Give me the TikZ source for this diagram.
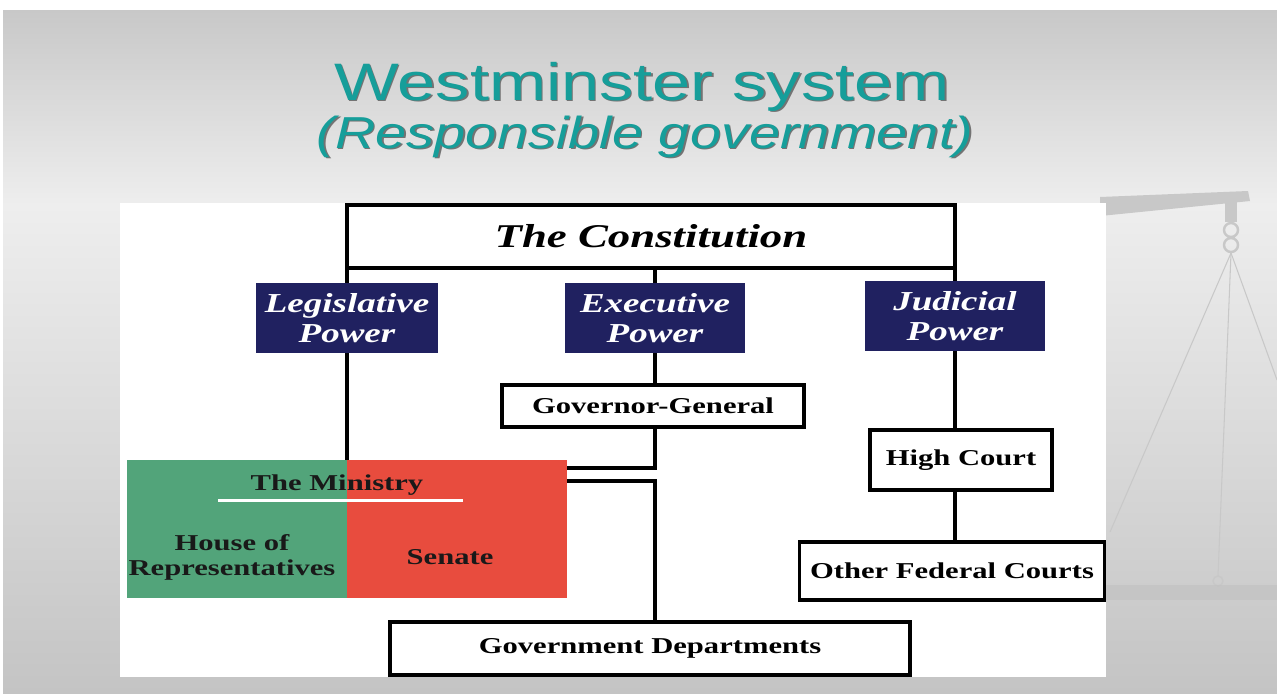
\documentclass[tikz,border=0pt]{standalone}
\usepackage{fontspec}
\newfontfamily\boxfont[FakeStretch=1.35]{Liberation Serif}
\newfontfamily\titlefont[FakeStretch=1.3]{Liberation Sans}
\newfontfamily\subtitlefont[FakeStretch=1.25]{Liberation Sans}

\definecolor{titleteal}{RGB}{22,158,154}
\definecolor{powernavy}{RGB}{32,33,96}
\definecolor{housegreen}{RGB}{82,164,122}
\definecolor{senatered}{RGB}{232,76,62}
\definecolor{bgtop}{RGB}{200,200,200}
\definecolor{bgmid}{RGB}{238,238,238}
\definecolor{bgbot}{RGB}{196,196,196}
\definecolor{scalegray}{RGB}{200,200,200}

\tikzset{
  boxsize/.style 2 args={minimum width=#1*0.02cm, minimum height=#2*0.02cm},
  plainbox/.style={draw, line width=2pt, fill=white, inner sep=0pt, outer sep=0pt,
    font=\boxfont\bfseries\fontsize{12.9}{13}\selectfont},
  powerbox/.style={fill=powernavy, text=white, inner sep=0pt, outer sep=0pt, align=center,
    font=\boxfont\bfseries\itshape\fontsize{15.6}{17}\selectfont},
  chamber/.style={inner sep=0pt, align=center, text=black!90,
    font=\boxfont\bfseries\fontsize{12.9}{14.2}\selectfont},
  link/.style={line width=2pt},
}

\begin{document}
\begin{tikzpicture}[x=0.02cm, y=-0.02cm]
    \useasboundingbox (0,0) rectangle (1277,693);

    % slide background
    \fill[white] (0,0) rectangle (1277,693);
    \shade[top color=bgtop, bottom color=bgmid] (3,10) rectangle (1277,205);
    \shade[top color=bgmid, bottom color=bgbot] (3,205) rectangle (1277,693);

    % scales in the background
    \fill[scalegray] (1100,197) -- (1248,191) -- (1250,201) -- (1100,216) -- cycle;
    \fill[scalegray] (1225,200) rectangle (1237,222);
    \draw[scalegray, line width=1.4pt] (1231,230) circle (7) (1231,245) circle (7);
    \draw[scalegray, line width=0.6pt] (1231,253) -- (1110,532);
    \draw[scalegray, line width=0.6pt] (1231,253) -- (1218,576);
    \draw[scalegray, line width=0.6pt] (1231,253) -- (1277,380);
    \draw[scalegray, line width=0.8pt] (1218,581) circle (5);
    \fill[black!25, opacity=0.5] (1100,585) rectangle (1277,600);

    % title
    \node[anchor=base, text=black!55, font=\titlefont\fontsize{30}{30}\selectfont]
      at (643.5,101.5) {Westminster system};
    \node[anchor=base, text=titleteal, font=\titlefont\fontsize{30}{30}\selectfont]
      (title) at (642,100) {Westminster system};
    \node[anchor=base, text=black!55, font=\subtitlefont\itshape\fontsize{25.5}{26}\selectfont]
      at (646.5,149.5) {(Responsible government)};
    \node[anchor=base, text=titleteal, font=\subtitlefont\itshape\fontsize{25.5}{26}\selectfont]
      (subtitle) at (645,148) {(Responsible government)};

    % white panel
    \fill[white] (120,203) rectangle (1106,677);

    % the ministry
    \node[boxsize={440}{138}, outer sep=0pt] (ministry) at (347,529) {};
    \fill[housegreen] (ministry.north west) rectangle (ministry.south);
    \fill[senatered] (ministry.north) rectangle (ministry.south east);
    \node[chamber, anchor=base] (mintext) at (337,490) {The Ministry};
    \draw[white, line width=1.7pt] (218,500) -- (463,500);
    \node[chamber] (house) at (232,557) {House of\\Representatives};
    \node[chamber] (senate) at (450,557) {Senate};

    % boxes
    \node[plainbox, boxsize={608}{63}, font=\boxfont\bfseries\itshape\fontsize{18.9}{19}\selectfont]
      (const) at (651,236.5) {The Constitution};
    \node[powerbox, boxsize={182}{70}] (leg) at (347,318) {Legislative\\Power};
    \node[powerbox, boxsize={180}{70}] (exe) at (655,318) {Executive\\Power};
    \node[powerbox, boxsize={180}{70}] (jud) at (955,316) {Judicial\\Power};
    \node[plainbox, boxsize={302}{42}] (gg) at (653,406) {Governor-General};
    \node[plainbox, boxsize={182}{60}] (hc) at (961,460) {High Court};
    \node[plainbox, boxsize={305}{58}] (ofc) at (952,571) {Other Federal Courts};
    \node[plainbox, boxsize={520}{53}] (gd) at (650,648.5) {Government Departments};

    \coordinate (m1) at (567,468);
    \coordinate (m2) at (567,481);

    % links
    \draw[link] (const.south west) -- (const.south west |- leg.north);
    \draw[link] (leg.south) -- (leg.south |- ministry.north);
    \draw[link] (const.south -| exe) -- (exe.north);
    \draw[link] (exe.south) -- (exe.south |- gg.north);
    \draw[link] (exe.south |- gg.south) -- (exe.south |- m1) -- (m1);
    \draw[link] (m2) -- (exe.south |- m2) -- (exe.south |- gd.north);
    \draw[link] (const.south east) -- (const.south east |- jud.north);
    \draw[link] (jud.south) -- (jud.south |- hc.north);
    \draw[link] (jud.south |- hc.south) -- (jud.south |- ofc.north);
\end{tikzpicture}
\end{document}
